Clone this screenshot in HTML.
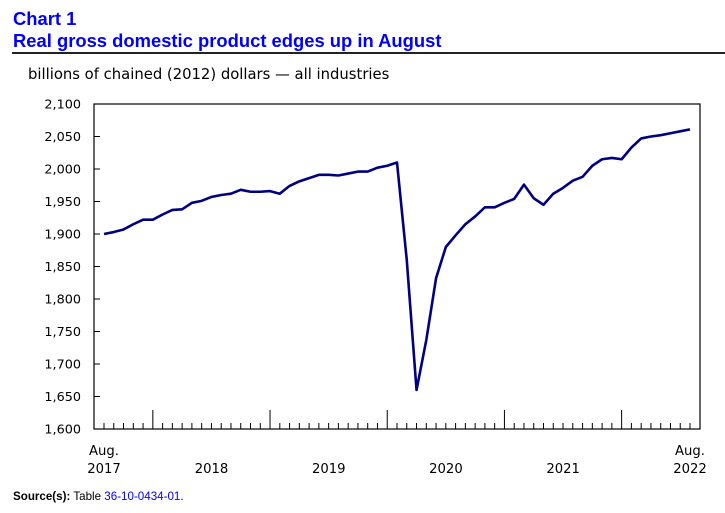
<!DOCTYPE html>
<html><head><meta charset="utf-8"><style>
body{margin:0;background:#fff;width:725px;height:513px;overflow:hidden;position:relative;font-family:"Liberation Sans",sans-serif}
.t{position:absolute;left:13px;color:#0000ff;font-weight:bold;font-size:18.4px;line-height:22px}
</style></head><body>
<div class="t" style="top:8px">Chart 1</div>
<div class="t" style="top:30px">Real gross domestic product edges up in August</div>
<div style="position:absolute;left:12px;top:52px;width:713px;height:2px;background:#222"></div>
<svg id="c" width="725" height="513" style="position:absolute;left:0;top:0"></svg>
<div style="position:absolute;left:13px;top:490px;font-size:11.6px;color:#000"><b>Source(s):</b> Table <span style="color:#0000ff">36-10-0434-01</span>.</div>
<script>
const values=[1900,1903,1907,1915,1922,1922,1930,1937,1938,1948,1951,1957,1960,1962,1968,1965,1965,1966,1962,1974,1981,1986,1991,1991,1990,1993,1996,1996,2002,2005,2010,1860,1660,1737,1832,1880,1898,1915,1927,1941,1941,1948,1954,1976,1955,1945,1962,1971,1982,1988,2005,2015,2017,2015,2033,2047,2050,2052,2055,2058,2061];
const yTicks=[1600,1650,1700,1750,1800,1850,1900,1950,2000,2050,2100];
const yearLabels=["2018","2019","2020","2021"];
const NS="http://www.w3.org/2000/svg";
const svg=document.getElementById('c');
const L=94,R=700,T=104,B=429,ymin=1600,ymax=2100;
const y=v=>B-(v-ymin)/(ymax-ymin)*(B-T);
const x=i=>104+i*(690-104)/(values.length-1);
function mk(t,a){const e=document.createElementNS(NS,t);for(const k in a)e.setAttribute(k,a[k]);svg.appendChild(e);return e;}
let e=mk('text',{x:28,y:79,'font-family':'DejaVu Sans,sans-serif','font-size':14.8,fill:'#000'});e.textContent='billions of chained (2012) dollars — all industries';


e=mk('rect',{x:L,y:T,width:R-L,height:B-T,fill:'none',stroke:'#000','stroke-width':1.2});


yTicks.forEach(v=>{
 let l=mk('line',{x1:L,x2:L+6,y1:y(v),y2:y(v),stroke:'#000'});
 
 
 let t=mk('text',{x:L-13,y:y(v)+4.5,'text-anchor':'end','font-family':'DejaVu Sans,sans-serif','font-size':12.8,fill:'#000'});t.textContent=v.toLocaleString('en-US');
 
 
});
values.forEach((v,i)=>{
 const major=(i+7)%12===0;
 let l=mk('line',{x1:x(i),x2:x(i),y1:B,y2:B-(major?19:6),stroke:'#000'});
 
 
});
function lab(s,xx,yy,n){let t=mk('text',{x:xx,y:yy,'text-anchor':'middle','font-family':'DejaVu Sans,sans-serif','font-size':13.2,fill:'#000'});t.textContent=s;
 
 }
lab('Aug.',x(0),455,'x-label-start-month');lab('2017',x(0),473,'x-label-start-year');
lab('Aug.',x(60),455,'x-label-end-month');lab('2022',x(60),473,'x-label-end-year');
yearLabels.forEach((s,k)=>lab(s,(x(5+12*k)+x(16+12*k))/2+5,473,'x-year-label'));
const p=mk('polyline',{points:values.map((v,i)=>x(i)+','+y(v)).join(' '),fill:'none',stroke:'#000080','stroke-width':2.6,'stroke-linejoin':'round'});


</script>
</body></html>
